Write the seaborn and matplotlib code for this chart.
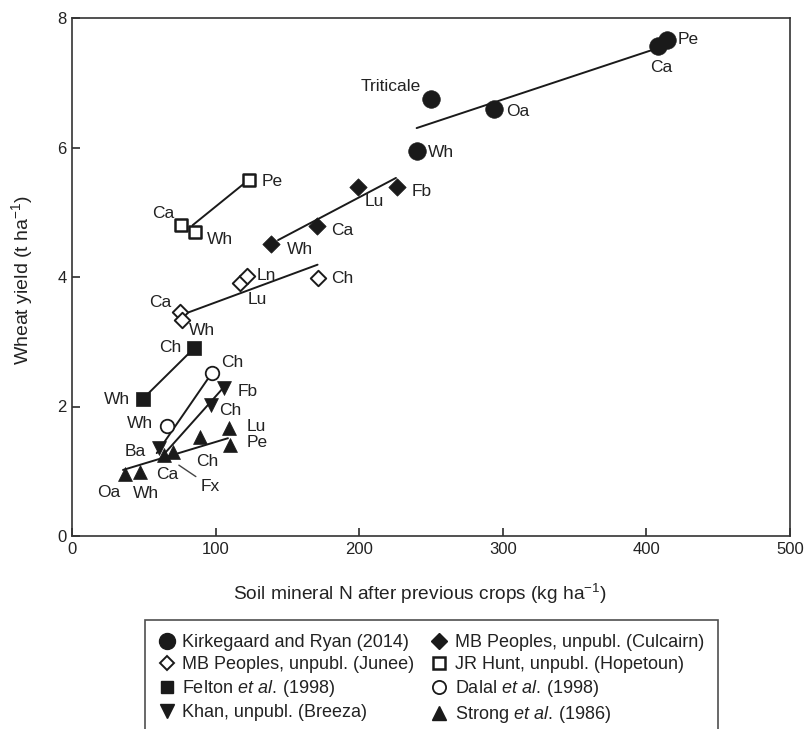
import matplotlib
matplotlib.use("Agg")
import matplotlib.pyplot as plt
import seaborn as sns
import pandas as pd
from matplotlib.lines import Line2D

# ---------------- data ----------------
# Kirkegaard and Ryan (2014)
kr_crop = ["Pe", "Ca", "Triticale", "Oa", "Wh"]
kr_n = [414, 408, 250, 294, 240]
kr_y = [7.66, 7.57, 6.75, 6.60, 5.95]
kr_line_n = [240, 410]
kr_line_y = [6.30, 7.55]

# MB Peoples, unpubl. (Culcairn)
cu_crop = ["Wh", "Ca", "Lu", "Fb"]
cu_n = [138.5, 170.6, 199, 226]
cu_y = [4.51, 4.79, 5.39, 5.39]
cu_line_n = [143.5, 225.6]
cu_line_y = [4.57, 5.53]

# MB Peoples, unpubl. (Junee)
ju_crop = ["Ca", "Wh", "Lu", "Ln", "Ch"]
ju_n = [75.2, 76.6, 117, 121.6, 171]
ju_y = [3.46, 3.34, 3.91, 4.02, 3.98]
ju_line_n = [77, 171]
ju_line_y = [3.42, 4.19]

# JR Hunt, unpubl. (Hopetoun)
hu_crop = ["Pe", "Ca", "Wh"]
hu_n = [123, 76, 86]
hu_y = [5.50, 4.80, 4.70]
hu_line_n = [84, 123]
hu_line_y = [4.80, 5.50]

# Felton et al. (1998)
fe_crop = ["Wh", "Ch"]
fe_n = [49.4, 85]
fe_y = [2.12, 2.90]
fe_line_n = [49.4, 85]
fe_line_y = [2.12, 2.90]

# Dalal et al. (1998)
da_crop = ["Wh", "Ch"]
da_n = [66, 97.5]
da_y = [1.70, 2.52]
da_line_n = [59, 97.5]
da_line_y = [1.28, 2.52]

# Khan, unpubl. (Breeza)
kh_crop = ["Ba", "Ch", "Fb"]
kh_n = [60.6, 96.7, 106]
kh_y = [1.36, 2.02, 2.28]
kh_line_n = [63.5, 107]
kh_line_y = [1.25, 2.33]

# Strong et al. (1986)
st_crop = ["Oa", "Wh", "Fx", "Ca", "Ch", "Lu", "Pe"]
st_n = [37, 47.4, 64, 70, 89, 109, 110]
st_y = [0.96, 0.99, 1.25, 1.30, 1.53, 1.67, 1.41]
st_line_n = [35.5, 108.6]
st_line_y = [1.02, 1.51]

legend_names = [
    "Kirkegaard and Ryan (2014)",
    "MB Peoples, unpubl. (Culcairn)",
    "MB Peoples, unpubl. (Junee)",
    "JR Hunt, unpubl. (Hopetoun)",
    "Felton $\\mathit{et\\ al.}$\u2009(1998)",
    "Dalal $\\mathit{et\\ al.}$\u2009(1998)",
    "Khan, unpubl. (Breeza)",
    "Strong $\\mathit{et\\ al.}$\u2009(1986)",
]

# ---------------- styling / layout ----------------
sns.set_style("ticks")
plt.rcParams["font.family"] = ["Liberation Sans", "DejaVu Sans"]
plt.rcParams["mathtext.fontset"] = "custom"
plt.rcParams["mathtext.rm"] = "Liberation Sans"
plt.rcParams["mathtext.it"] = "Liberation Sans:italic"
plt.rcParams["mathtext.bf"] = "Liberation Sans:bold"

INK = "#1a1a1a"
TXT = "#222222"
FS = 12.5

fig = plt.figure(figsize=(8.07, 7.29), dpi=100)
ax = fig.add_axes([72 / 807, 1 - 536 / 729, 718 / 807, 518 / 729])

# series: (n, y, crops, line_n, line_y, marker, filled, size, edge lw, label offsets)
series = [
    (kr_n, kr_y, kr_crop, kr_line_n, kr_line_y, "o", True, 160, 0.5,
     [(11, 1, "left"), (3, -22, "center"), (-10, 12, "right"), (12, -3, "left"), (11, -2, "left")]),
    (cu_n, cu_y, cu_crop, cu_line_n, cu_line_y, "D", True, 78, 0.5,
     [(29, -6, "center"), (25, -5, "center"), (17, -15, "center"), (25, -5, "center")]),
    (ju_n, ju_y, ju_crop, ju_line_n, ju_line_y, "D", False, 62, 1.4,
     [(-20, 9, "center"), (20, -11, "center"), (17, -17, "center"), (20, 0, "center"), (25, 0, "center")]),
    (hu_n, hu_y, hu_crop, hu_line_n, hu_line_y, "s", False, 80, 1.8,
     [(24, -2, "center"), (-18, 12, "center"), (24, -8, "center")]),
    (fe_n, fe_y, fe_crop, fe_line_n, fe_line_y, "s", True, 90, 0.5,
     [(-26, -1, "center"), (-24, 1, "center")]),
    (da_n, da_y, da_crop, da_line_n, da_line_y, "o", False, 95, 1.3,
     [(-27, 2, "center"), (20, 10, "center")]),
    (kh_n, kh_y, kh_crop, kh_line_n, kh_line_y, "v", True, 100, 0.5,
     [(-24, -4, "center"), (19, -5, "center"), (23, -3, "center")]),
    (st_n, st_y, st_crop, st_line_n, st_line_y, "^", True, 100, 0.5,
     [(-16, -19, "center"), (6, -22, "center"), None, (-5, -23, "center"),
      (7, -25, "center"), (28, 1, "center"), (27, 2, "center")]),
]

for (xn, yv, crops, ln, ly, mk, filled, size, elw, offs) in series:
    line_df = pd.DataFrame({"n": ln, "y": ly})
    sns.lineplot(data=line_df, x="n", y="y", ax=ax, color=INK, lw=1.4,
                 sort=False, estimator=None, legend=False, zorder=2)
    pt_df = pd.DataFrame({"n": xn, "y": yv, "crop": crops})
    sns.scatterplot(data=pt_df, x="n", y="y", ax=ax, marker=mk, s=size,
                    color=INK if filled else "white",
                    edgecolor=INK, linewidth=elw, legend=False, zorder=3)
    for xi, yi, c, off in zip(xn, yv, crops, offs):
        if off is None:
            continue
        dx, dy, ha = off
        ax.annotate(c, (xi, yi), xytext=(dx, dy), textcoords="offset pixels",
                    ha=ha, va="center", fontsize=FS, color=TXT, zorder=4)

# Fx label with leader line (Strong et al.)
fx_i = st_crop.index("Fx")
ax.annotate("Fx", (st_n[fx_i], st_y[fx_i]), xytext=(46, -31),
            textcoords="offset pixels", ha="center", va="center",
            fontsize=FS, color=TXT, zorder=4,
            arrowprops=dict(arrowstyle="-", color="#444444", lw=1.0,
                            shrinkA=1, shrinkB=13))

ax.set_xlim(0, 500)
ax.set_ylim(0, 8)
ax.set_xticks([0, 100, 200, 300, 400, 500])
ax.set_yticks([0, 2, 4, 6, 8])
ax.tick_params(direction="in", length=6, width=1.1, colors=INK,
               labelsize=12, labelcolor=TXT, pad=4)
for sp in ax.spines.values():
    sp.set_visible(True)
    sp.set_color("#333333")
    sp.set_linewidth(1.2)

ax.set_xlabel("Soil mineral N after previous crops (kg ha$^{-1}$)",
              fontsize=13.8, color=TXT)
ax.set_ylabel("Wheat yield (t ha$^{-1}$)", fontsize=14, color=TXT)
ax.xaxis.set_label_coords((420 - 72) / 718, (536 - 582) / 518)
ax.yaxis.set_label_coords((35 - 72) / 718, (536 - 280) / 518)

# legend (column-major order for ncol=2)
h = {
    0: Line2D([], [], ls="none", marker="o", ms=11.5, mfc=INK, mec=INK),
    1: Line2D([], [], ls="none", marker="D", ms=8.5, mfc=INK, mec=INK),
    2: Line2D([], [], ls="none", marker="D", ms=7.5, mfc="white", mec=INK, mew=1.4),
    3: Line2D([], [], ls="none", marker="s", ms=9, mfc="white", mec=INK, mew=1.8),
    4: Line2D([], [], ls="none", marker="s", ms=9, mfc=INK, mec=INK),
    5: Line2D([], [], ls="none", marker="o", ms=9.5, mfc="white", mec=INK, mew=1.3),
    6: Line2D([], [], ls="none", marker="v", ms=10, mfc=INK, mec=INK),
    7: Line2D([], [], ls="none", marker="^", ms=10, mfc=INK, mec=INK),
}
order = [0, 2, 4, 6, 1, 3, 5, 7]
leg = fig.legend([h[i] for i in order], [legend_names[i] for i in order],
                 ncol=2, loc="upper left",
                 bbox_to_anchor=(145 / 807, 1 - 620 / 729),
                 bbox_transform=fig.transFigure, frameon=True, fancybox=False,
                 edgecolor="#222222", fontsize=13, handlelength=0.8,
                 handletextpad=0.45, columnspacing=1.0, labelspacing=0.27,
                 borderpad=0.8, borderaxespad=0)
leg.get_frame().set_linewidth(1.2)
for t in leg.get_texts():
    t.set_color(TXT)

fig.savefig("out.png", dpi=100)
